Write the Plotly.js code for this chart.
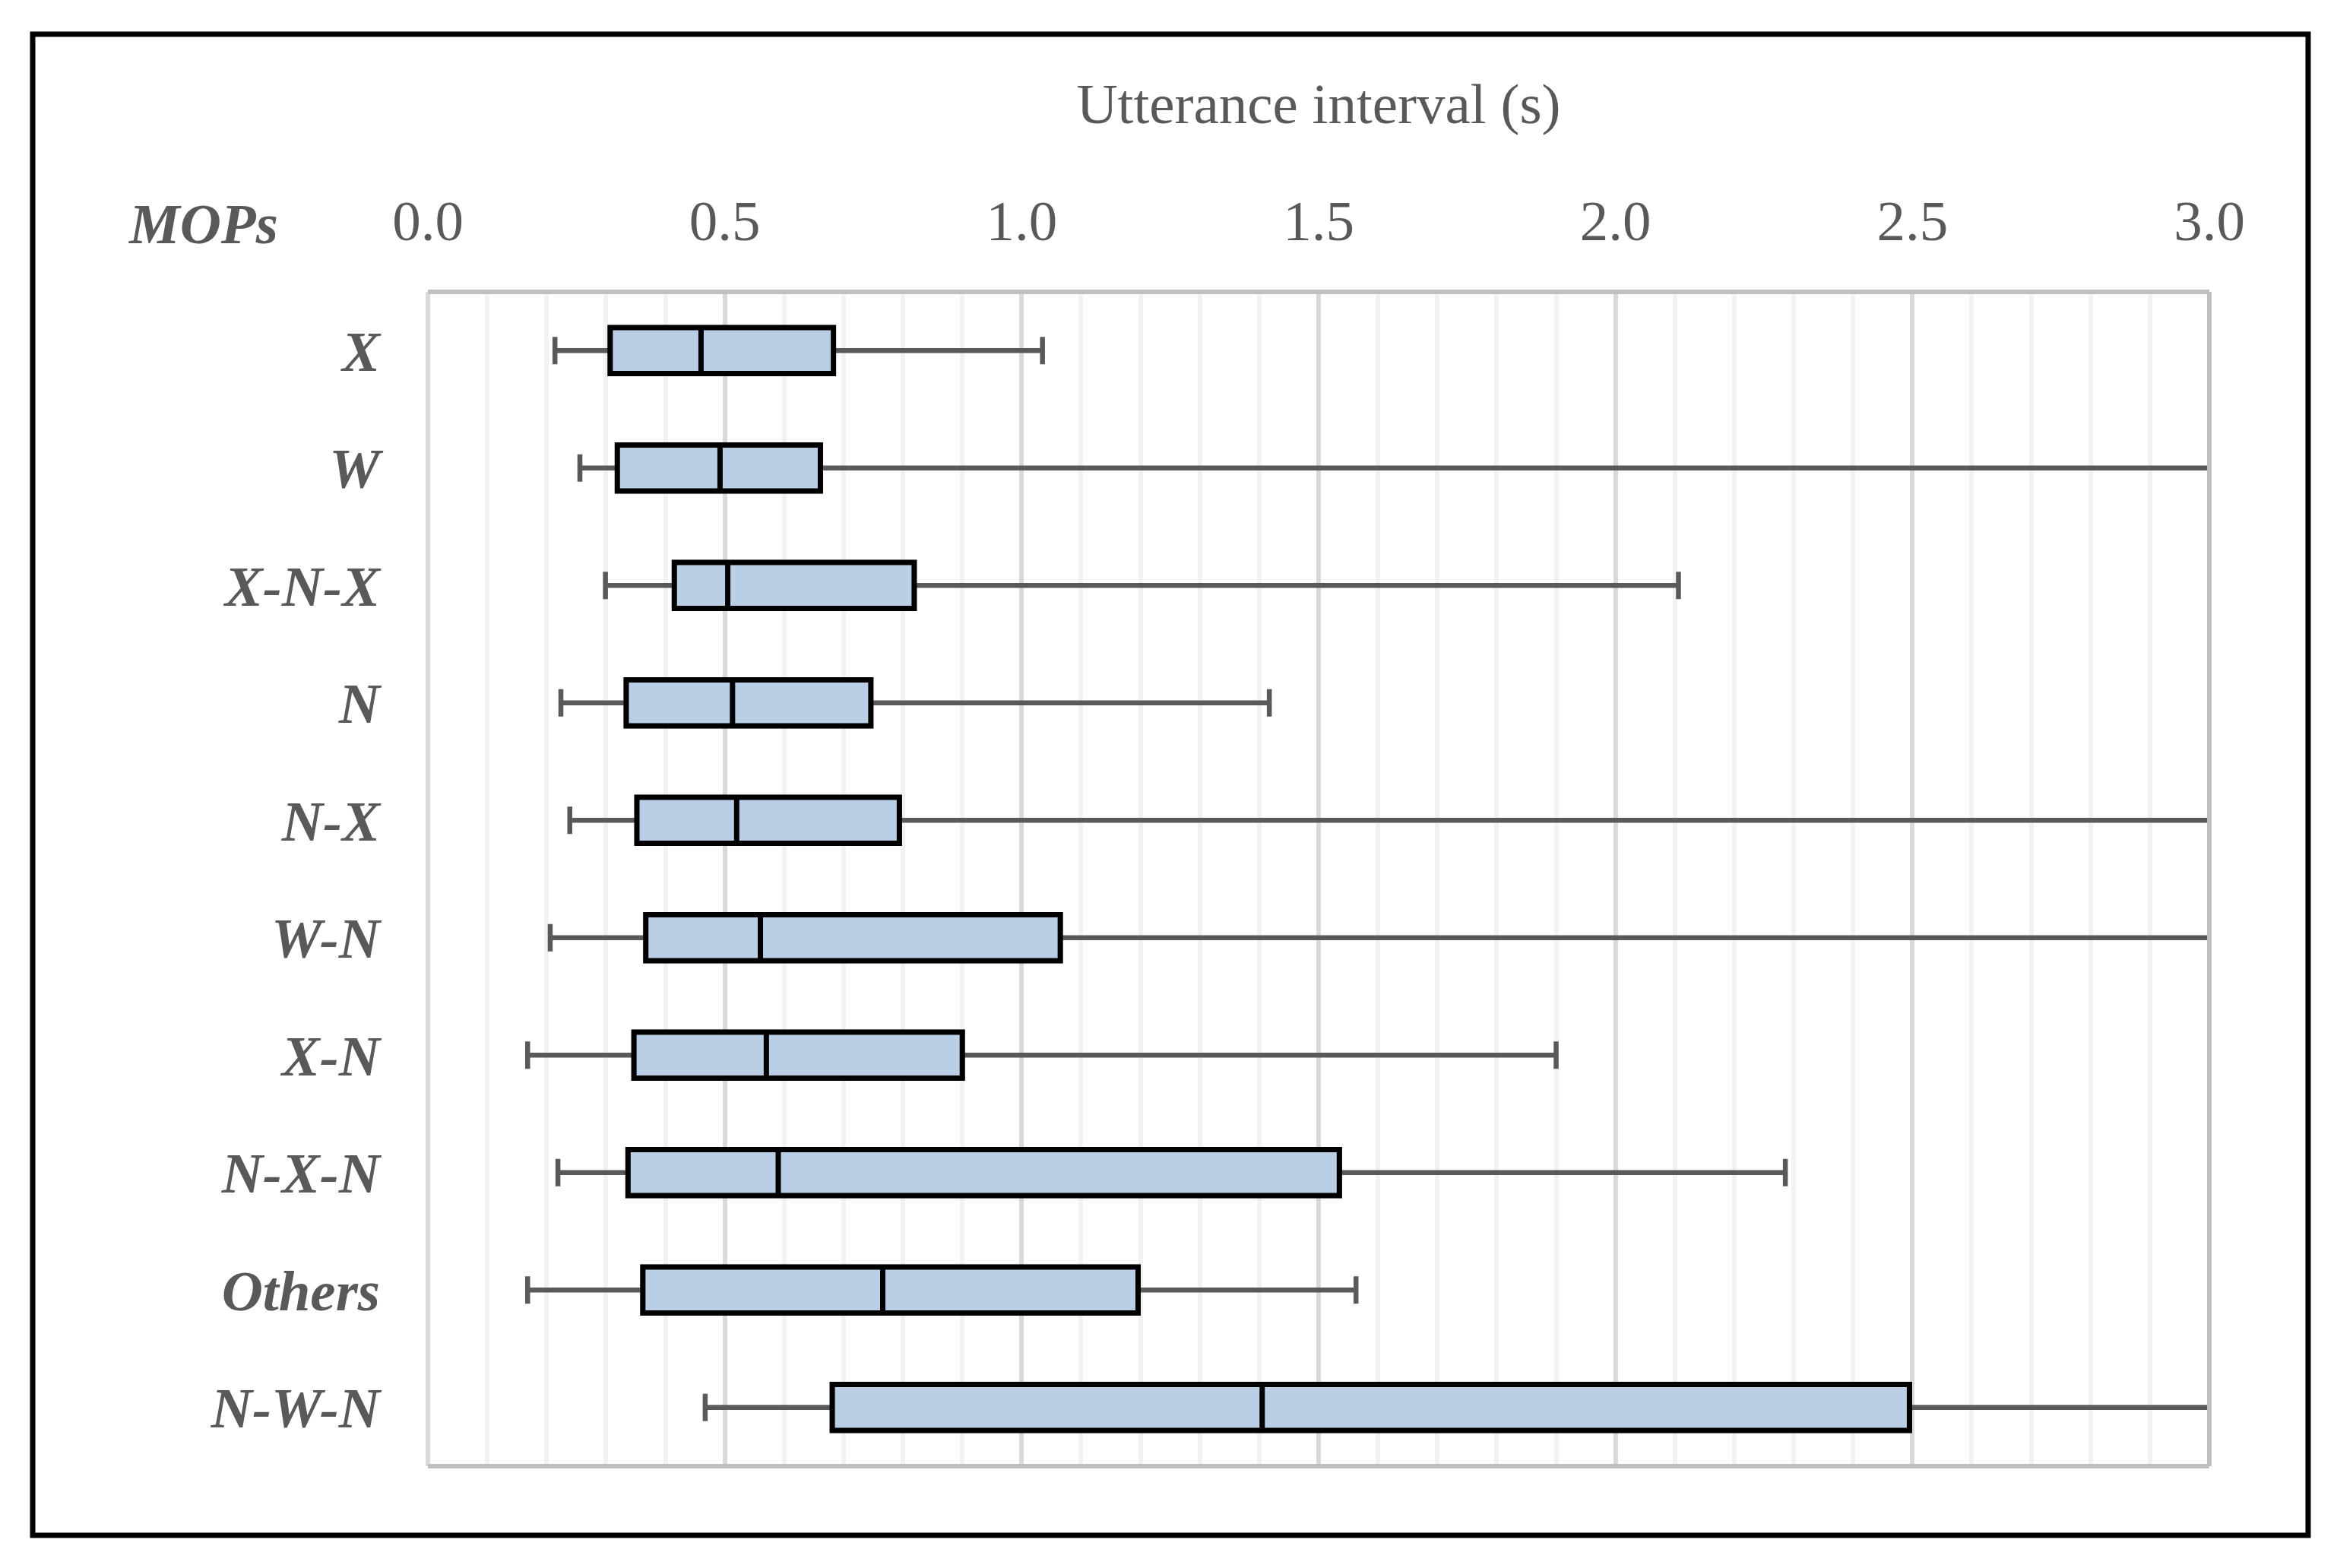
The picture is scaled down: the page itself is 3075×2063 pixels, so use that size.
<!DOCTYPE html>
<html>
<head>
<meta charset="utf-8">
<script src="https://cdn.plot.ly/plotly-3.0.1.min.js"></script>
<style>html,body{margin:0;padding:0;background:#fff;}</style>
</head>
<body>
<div id="chart" style="width:3075px;height:2063px;"></div>
<script>
// MOPs categories, top to bottom
const categories = ['X', 'W', 'X-N-X', 'N', 'N-X', 'W-N', 'X-N', 'N-X-N', 'Others', 'N-W-N'];
// Box statistics (utterance interval, seconds)
const lowerWhisker = [0.214, 0.256, 0.299, 0.224, 0.239, 0.206, 0.168, 0.219, 0.168, 0.467];
const q1Values     = [0.307, 0.319, 0.415, 0.334, 0.352, 0.367, 0.347, 0.337, 0.362, 0.681];
const medianValues = [0.460, 0.492, 0.505, 0.513, 0.520, 0.560, 0.570, 0.590, 0.766, 1.405];
const q3Values     = [0.683, 0.661, 0.819, 0.746, 0.794, 1.065, 0.900, 1.535, 1.196, 2.495];
const upperWhisker = [1.035, 3.200, 2.106, 1.417, 3.200, 3.200, 1.900, 2.286, 1.563, 3.200];
const xTickValues = [0, 0.5, 1.0, 1.5, 2.0, 2.5, 3.0];

const FONT = '"Liberation Serif", "Times New Roman", serif';
const GREY = '#595959';
const BOXW = 0.39;

// whiskers (grey) drawn underneath
const whiskers = {
  type: 'box', orientation: 'h', y: categories,
  q1: q1Values, median: medianValues, q3: q3Values,
  lowerfence: lowerWhisker, upperfence: upperWhisker,
  width: BOXW, whiskerwidth: 0.6,
  line: {color: GREY, width: 6.5},
  fillcolor: 'rgba(0,0,0,0)',
  boxpoints: false, hoverinfo: 'skip', showlegend: false
};
// boxes (black outline) drawn on top, whiskers collapsed into the box
const boxes = {
  type: 'box', orientation: 'h', y: categories,
  q1: q1Values, median: medianValues, q3: q3Values,
  lowerfence: q1Values, upperfence: q3Values,
  width: BOXW, whiskerwidth: 0,
  line: {color: '#000000', width: 7},
  fillcolor: '#bacee6',
  boxpoints: false, showlegend: false
};

const W = 2344, H = 1545;
function px(x) { return (x - 563) / W; }
function py(y) { return (1929 - y) / H; }

const layout = {
  width: 3075, height: 2063,
  margin: {l: 563, r: 168, t: 384, b: 134, pad: 0},
  paper_bgcolor: '#ffffff', plot_bgcolor: '#ffffff',
  boxmode: 'overlay',
  font: {family: FONT, color: GREY, size: 75},
  xaxis: {
    side: 'top', range: [0, 3], tickvals: xTickValues, tickformat: '.1f',
    showgrid: true, gridcolor: '#d9d9d9', gridwidth: 6,
    minor: {dtick: 0.1, showgrid: true, gridcolor: '#f2f2f2', gridwidth: 6},
    zeroline: false, showline: false, ticks: '',
    ticklabelstandoff: 52,
    tickfont: {family: FONT, size: 75, color: GREY},
    title: {text: 'Utterance interval (s)', font: {family: FONT, size: 75, color: GREY}, standoff: 61}
  },
  yaxis: {
    type: 'category', range: [9.5, -0.5], autorange: false,
    showgrid: false, zeroline: false, showline: false, ticks: '',
    ticklabelstandoff: 62,
    tickfont: {family: FONT, size: 75, color: GREY, weight: 'bold', style: 'italic'}
  },
  annotations: [{
    text: 'MOPs', xref: 'paper', yref: 'paper', x: px(167), y: py(294),
    xanchor: 'left', yanchor: 'middle', showarrow: false,
    font: {family: FONT, size: 75, color: GREY, weight: 'bold', style: 'italic'}
  }],
  shapes: [
    // plot area border
    {type: 'line', xref: 'paper', yref: 'paper', x0: 0, x1: 0, y0: 0, y1: 1, line: {color: '#d9d9d9', width: 6}},
    {type: 'line', xref: 'paper', yref: 'paper', x0: 0, x1: 1, y0: 1, y1: 1, line: {color: '#bfbfbf', width: 6}},
    {type: 'line', xref: 'paper', yref: 'paper', x0: 1, x1: 1, y0: 0, y1: 1, line: {color: '#bfbfbf', width: 6}},
    {type: 'line', xref: 'paper', yref: 'paper', x0: 0, x1: 1, y0: 0, y1: 0, line: {color: '#bfbfbf', width: 6}},
    // outer frame
    {type: 'rect', xref: 'paper', yref: 'paper', x0: px(43), x1: px(3037), y0: py(2020), y1: py(45),
     line: {color: '#000000', width: 7}, fillcolor: 'rgba(0,0,0,0)'}
  ]
};

Plotly.newPlot('chart', [whiskers, boxes], layout, {displayModeBar: false, staticPlot: true});
</script>
</body>
</html>
